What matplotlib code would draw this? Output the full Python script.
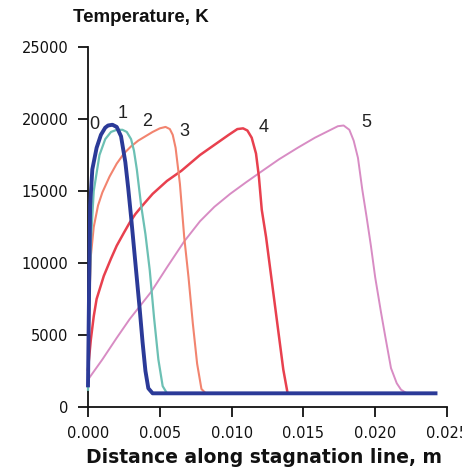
import matplotlib
matplotlib.use("Agg")
import matplotlib.pyplot as plt

# ---- data (distance along stagnation line in m, temperature in K) ----
x0 = [0, 0.00005, 0.0001, 0.00015, 0.0003, 0.0006, 0.0009, 0.0012, 0.0014, 0.0017, 0.0020,
      0.0023, 0.0026, 0.0028, 0.0030, 0.0033, 0.0036, 0.0038, 0.0040, 0.0042, 0.0045, 0.0242]
t0 = [1500, 6000, 10200, 14000, 16500, 18000, 18900, 19400, 19550, 19600, 19450,
      18800, 17000, 15200, 13200, 10000, 6800, 4500, 2500, 1300, 950, 950]

x1 = [0, 0.00005, 0.0001, 0.0002, 0.0004, 0.0008, 0.0012, 0.0016, 0.0020, 0.0024, 0.0027,
      0.0030, 0.0032, 0.0034, 0.0037, 0.0040, 0.0043, 0.0046, 0.0049, 0.0052, 0.0055, 0.0242]
t1 = [1200, 4000, 7500, 11500, 15000, 17500, 18600, 19100, 19250, 19250, 19100,
      18600, 17800, 16500, 14000, 12000, 9500, 6200, 3300, 1450, 950, 950]

x2 = [0, 0.00005, 0.0001, 0.0002, 0.0004, 0.0007, 0.001, 0.0015, 0.002, 0.0025, 0.003,
      0.0035, 0.004, 0.0045, 0.005, 0.0054, 0.0057, 0.0059, 0.0061, 0.0064, 0.0067, 0.007,
      0.0073, 0.0076, 0.0079, 0.0082, 0.0242]
t2 = [2600, 5000, 7500, 10500, 12500, 14000, 14900, 16000, 16900, 17600, 18100,
      18500, 18800, 19100, 19350, 19450, 19300, 18900, 18000, 15500, 11800, 9000,
      5800, 3000, 1250, 950, 950]

x4 = [0, 0.0002, 0.0004, 0.0006, 0.0011, 0.0016, 0.002, 0.0025, 0.0029, 0.0033, 0.0038,
      0.0045, 0.0055, 0.0065, 0.0078, 0.0088, 0.0098, 0.0104, 0.0108, 0.0111, 0.0114,
      0.0117, 0.0119, 0.0121, 0.0124, 0.0130, 0.0136, 0.0139, 0.0242]
t4 = [2600, 4700, 6300, 7500, 9100, 10300, 11200, 12100, 12800, 13400, 14000,
      14800, 15700, 16400, 17500, 18200, 18900, 19300, 19350, 19200, 18700,
      17600, 16000, 13700, 11800, 7200, 2600, 950, 950]

x5 = [0, 0.001, 0.002, 0.0029, 0.0044, 0.0055, 0.0067, 0.0078, 0.0088, 0.0099, 0.011,
      0.012, 0.0133, 0.0146, 0.0158, 0.0168, 0.0174, 0.0178, 0.0182, 0.0185, 0.0188,
      0.0191, 0.0194, 0.0197, 0.0200, 0.0204, 0.0207, 0.0211, 0.0215, 0.0218, 0.0222, 0.0242]
t5 = [1900, 3300, 4800, 6100, 8000, 9700, 11500, 12900, 13900, 14800, 15600,
      16300, 17200, 18000, 18700, 19200, 19500, 19550, 19250, 18500, 17300,
      15100, 13200, 11200, 9000, 6600, 4900, 2700, 1650, 1200, 950, 950]

curve_labels = ["0", "1", "2", "3", "4", "5"]
label_x = [0.00042, 0.0024, 0.0041, 0.0067, 0.0122, 0.0194]
label_t = [19600, 20400, 19800, 19100, 19400, 19750]

xticks = [0.0, 0.005, 0.010, 0.015, 0.020, 0.025]
xtick_labels = ["0.000", "0.005", "0.010", "0.015", "0.020", "0.025"]
yticks = [0, 5000, 10000, 15000, 20000, 25000]
ytick_labels = ["0", "5000", "10000", "15000", "20000", "25000"]

# ---- figure ----
fig = plt.figure(figsize=(4.62, 4.74), dpi=100)
W, H = 462, 474
ax = fig.add_axes([88 / W, 1 - 407 / H, 359 / W, 360 / H])
ax.set_xlim(0, 0.025)
ax.set_ylim(0, 25000)

ax.plot(x5, t5, color="#d88cc4", lw=1.4, solid_joinstyle="round", clip_on=False, zorder=2)
ax.plot(x4, t4, color="#e8404e", lw=1.8, solid_joinstyle="round", clip_on=False, zorder=3)
ax.plot(x2, t2, color="#f2846f", lw=1.5, solid_joinstyle="round", clip_on=False, zorder=3)
ax.plot(x1, t1, color="#6cc0b4", lw=1.6, solid_joinstyle="round", clip_on=False, zorder=4)
ax.plot(x0, t0, color="#2b3a98", lw=2.8, solid_joinstyle="round", clip_on=False, zorder=5)

for lab, lx, lt in zip(curve_labels, label_x, label_t):
    ax.text(lx, lt, lab, ha="center", va="center", fontsize=13,
            family="Liberation Sans", color="#222222")

for s in ["top", "right"]:
    ax.spines[s].set_visible(False)
for s in ["left", "bottom"]:
    ax.spines[s].set_linewidth(1.3)
    ax.spines[s].set_color("#111111")

ax.set_xticks(xticks)
ax.set_xticklabels(xtick_labels)
ax.set_yticks(yticks)
ax.set_yticklabels(ytick_labels)
ax.tick_params(direction="out", length=7, width=1.3, labelsize=10.5, pad=7,
               colors="#111111")

fig.text(73 / W, 1 - 17.5 / H, "Temperature, K", ha="left", va="center",
         fontsize=13.5, fontweight="bold", family="Liberation Sans", color="#111111")
fig.text(264 / W, 1 - 463 / H, "Distance along stagnation line, m", ha="center",
         va="baseline", fontsize=13.5, fontweight="bold", family="DejaVu Sans",
         color="#111111")

fig.savefig("out.png", dpi=100)
